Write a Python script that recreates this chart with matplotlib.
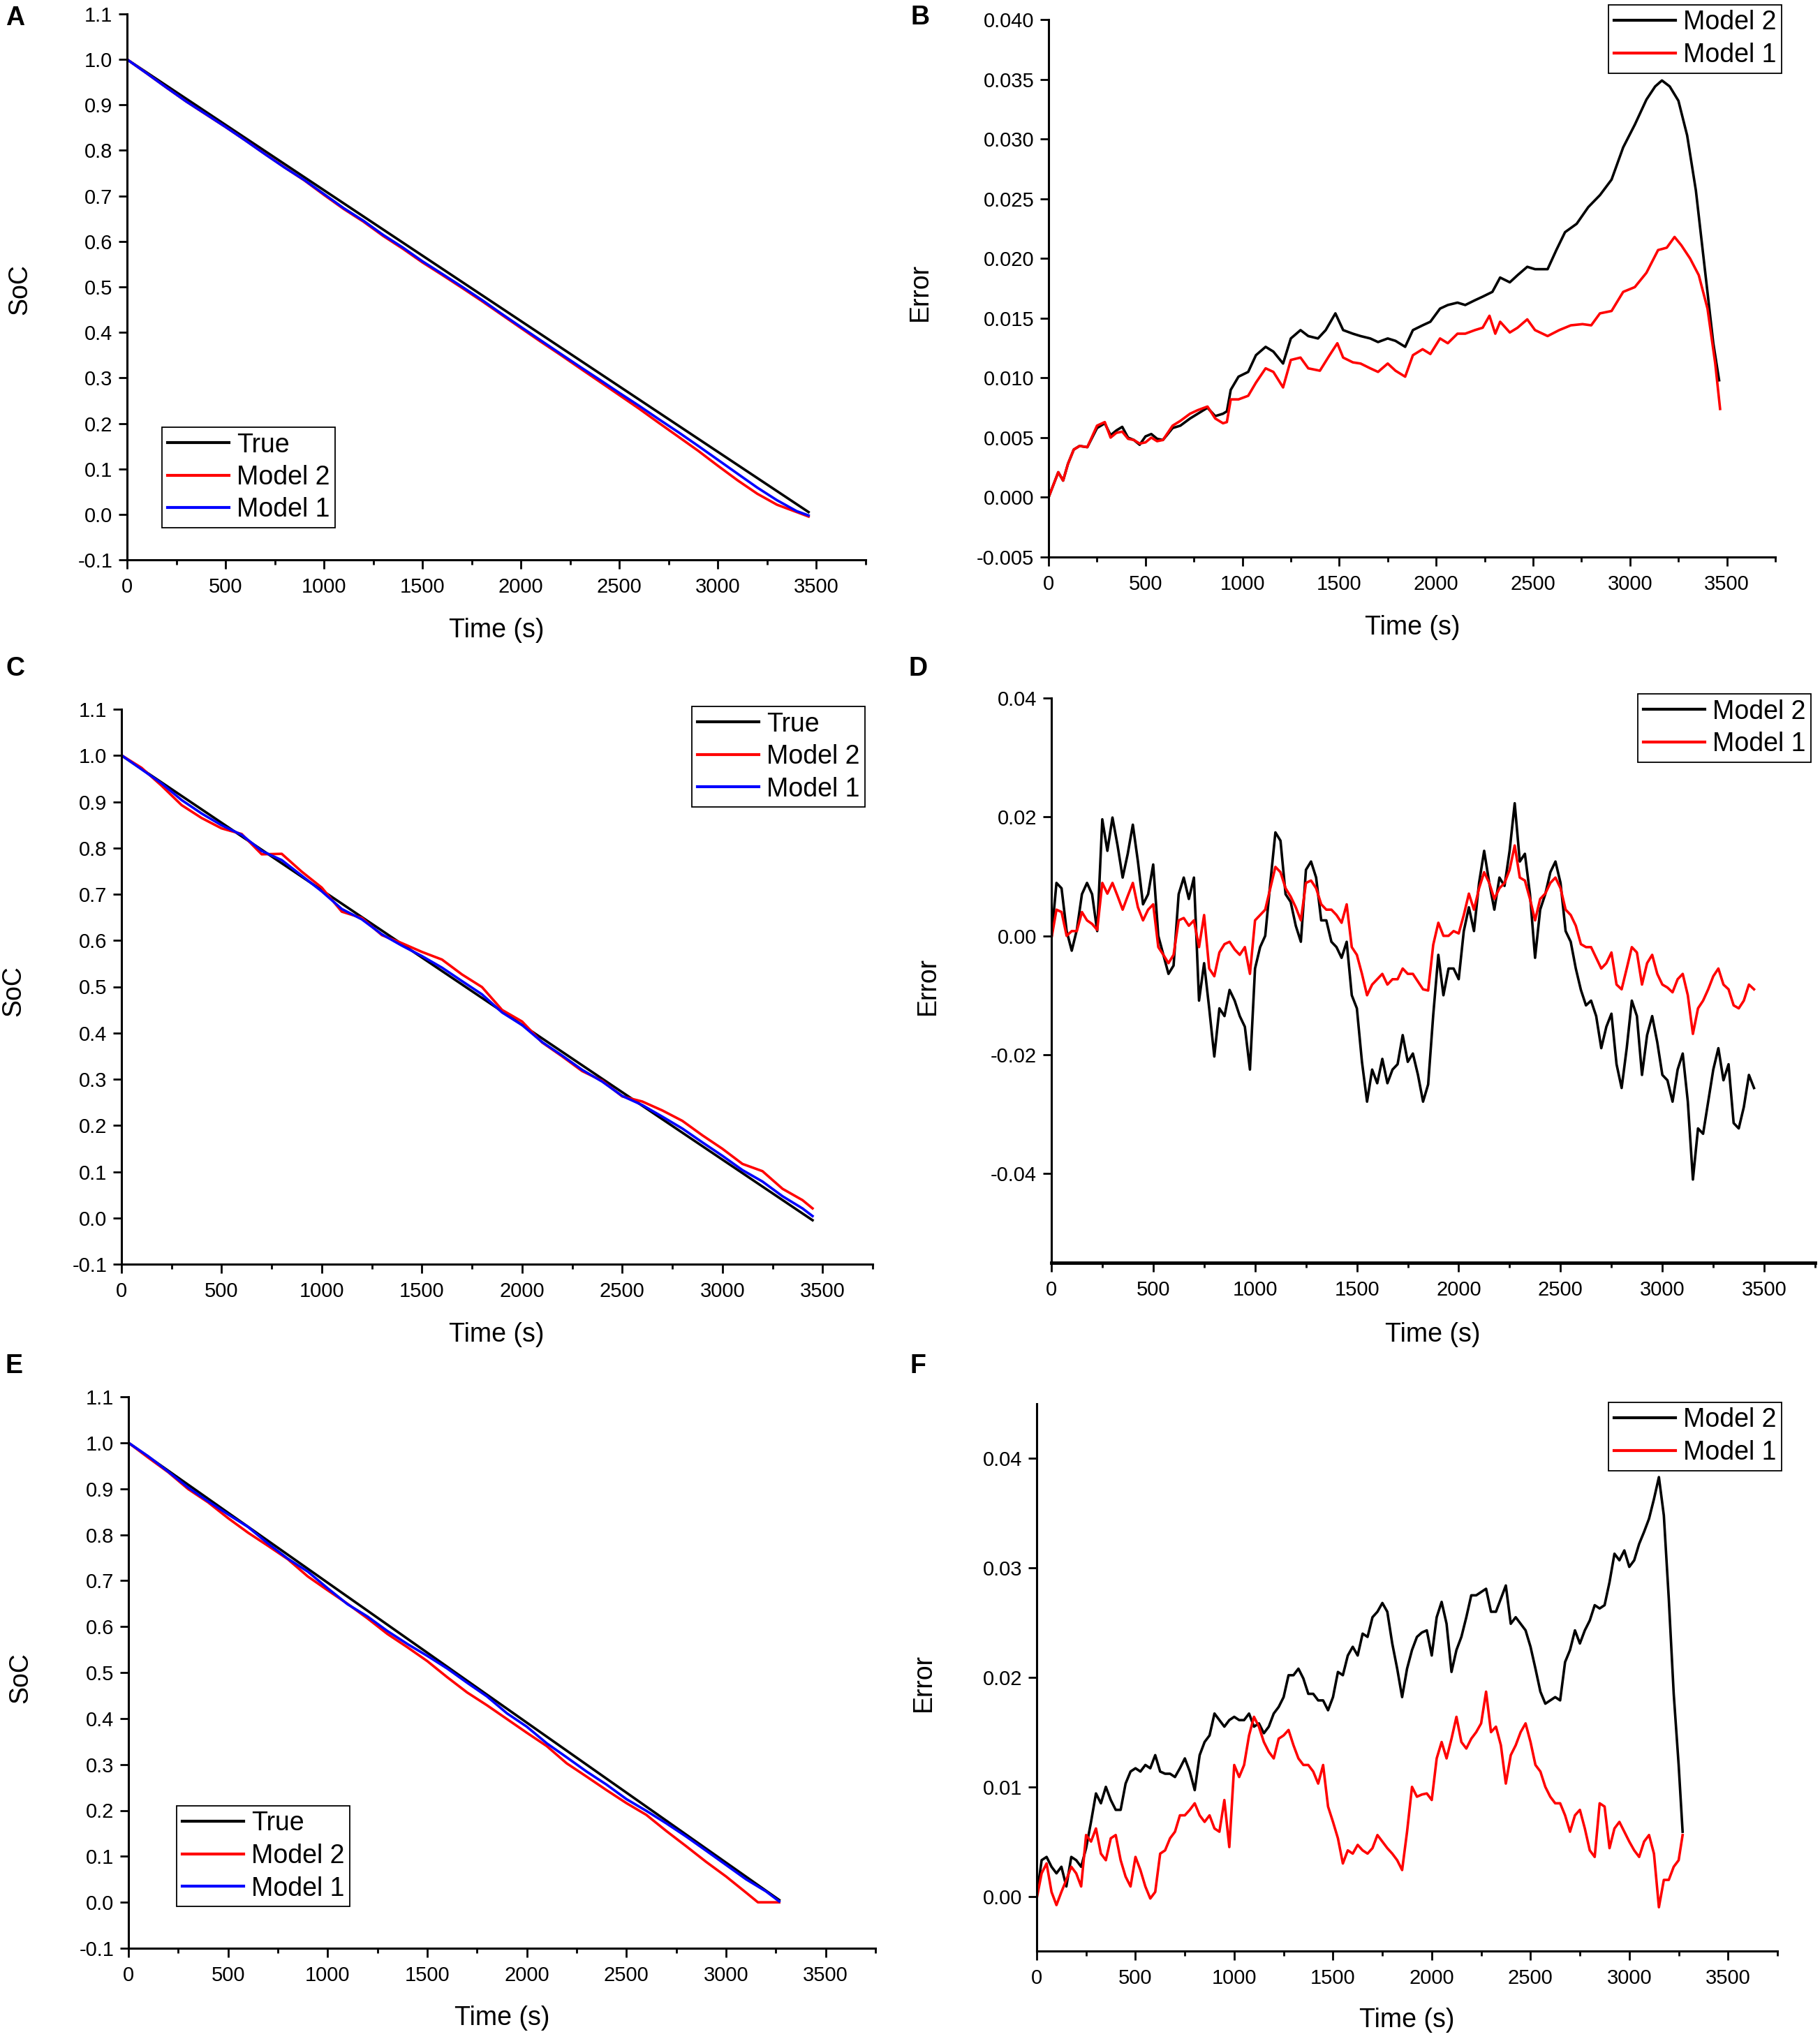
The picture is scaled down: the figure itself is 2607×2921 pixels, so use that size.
import matplotlib
matplotlib.use('Agg')
import matplotlib.pyplot as plt
from matplotlib.ticker import MultipleLocator, FixedLocator, FormatStrFormatter

plt.rcParams['font.family'] = ['Liberation Sans', 'DejaVu Sans']
plt.rcParams['axes.unicode_minus'] = False

# ---------------- data: panel A (SoC) ----------------
t_A_true = [0, 3460]
soc_A_true = [1.0, 0.005]
t_A = [0, 100, 200, 300, 400, 500, 600, 700, 800, 900, 1000, 1100, 1200, 1300, 1400,
       1500, 1600, 1700, 1800, 1900, 2000, 2100, 2200, 2300, 2400, 2500, 2600, 2700,
       2800, 2900, 3000, 3100, 3200, 3300, 3400, 3460]
soc_A_m2 = [1.0, 0.9694, 0.9382, 0.9077, 0.8795, 0.8516, 0.8224, 0.7922, 0.7627, 0.7342,
            0.7022, 0.6713, 0.6435, 0.6121, 0.584, 0.5538, 0.5263, 0.4981, 0.4693, 0.4394,
            0.4095, 0.3797, 0.3508, 0.321, 0.2915, 0.2619, 0.2322, 0.201, 0.1704, 0.1396,
            0.1067, 0.0747, 0.0452, 0.0211, 0.005, -0.0048]
soc_A_m1 = [1.0, 0.9694, 0.9382, 0.9077, 0.8798, 0.8516, 0.8222, 0.7919, 0.7624, 0.7349,
            0.7041, 0.6731, 0.6455, 0.6144, 0.5866, 0.5562, 0.5286, 0.5006, 0.4718, 0.4414,
            0.4118, 0.3825, 0.3533, 0.3243, 0.2958, 0.2668, 0.2385, 0.2091, 0.1803, 0.1504,
            0.1198, 0.0892, 0.0587, 0.031, 0.007, -0.0024]

# ---------------- data: panel B (error) ----------------
t_B_m2 = [0, 50, 75, 100, 130, 160, 200, 250, 290, 320, 350, 380, 410, 440, 470, 500, 530,
          560, 590, 640, 680, 730, 770, 820, 860, 900, 920, 940, 980, 1030, 1070, 1120, 1160,
          1210, 1250, 1300, 1340, 1390, 1430, 1480, 1520, 1570, 1610, 1660, 1700, 1750, 1790,
          1840, 1880, 1930, 1970, 2020, 2060, 2110, 2150, 2200, 2240, 2290, 2330, 2380, 2420,
          2470, 2510, 2575, 2620, 2665, 2725, 2785, 2845, 2905, 2965, 3025, 3085, 3130, 3165,
          3205, 3250, 3295, 3340, 3385, 3430, 3460]
err_B_m2 = [0, 0.0021, 0.0014, 0.0028, 0.004, 0.0043, 0.0042, 0.0058, 0.0062, 0.0052,
            0.0056, 0.0059, 0.005, 0.0048, 0.0044, 0.0051, 0.0053, 0.0049, 0.0048, 0.0058,
            0.006, 0.0066, 0.007, 0.0075, 0.0068, 0.007, 0.0072, 0.009, 0.0101, 0.0105,
            0.0119, 0.0126, 0.0122, 0.0112, 0.0133, 0.014, 0.0135, 0.0133, 0.014, 0.0154,
            0.014, 0.0137, 0.0135, 0.0133, 0.013, 0.0133, 0.0131, 0.0126, 0.014, 0.0144,
            0.0147, 0.0158, 0.0161, 0.0163, 0.0161, 0.0165, 0.0168, 0.0172, 0.0184, 0.018,
            0.0186, 0.0193, 0.0191, 0.0191, 0.0207, 0.0222, 0.0229, 0.0243, 0.0253, 0.0266,
            0.0293, 0.0312, 0.0333, 0.0344, 0.0349, 0.0344, 0.0332, 0.0303, 0.0257, 0.0193,
            0.0129, 0.0098]
t_B_m1 = [0, 50, 75, 100, 130, 160, 200, 250, 290, 320, 350, 380, 410, 440, 470, 500, 530,
          560, 590, 640, 680, 730, 770, 820, 860, 900, 920, 940, 980, 1030, 1070, 1120, 1160,
          1210, 1250, 1300, 1340, 1400, 1450, 1490, 1520, 1570, 1610, 1660, 1700, 1750, 1790,
          1840, 1880, 1930, 1970, 2020, 2060, 2110, 2150, 2200, 2240, 2275, 2305, 2330, 2380,
          2420, 2470, 2510, 2575, 2635, 2695, 2755, 2800, 2845, 2905, 2965, 3025, 3085, 3145,
          3190, 3230, 3265, 3310, 3355, 3400, 3440, 3465]
err_B_m1 = [0, 0.0021, 0.0014, 0.0028, 0.004, 0.0043, 0.0042, 0.006, 0.0063, 0.005,
            0.0054, 0.0055, 0.0049, 0.0048, 0.0045, 0.0046, 0.005, 0.0047, 0.0048, 0.006,
            0.0064, 0.007, 0.0073, 0.0076, 0.0066, 0.0062, 0.0063, 0.0082, 0.0082, 0.0085,
            0.0096, 0.0108, 0.0105, 0.0092, 0.0115, 0.0117, 0.0108, 0.0106, 0.0119, 0.0129,
            0.0117, 0.0113, 0.0112, 0.0108, 0.0105, 0.0112, 0.0106, 0.0101, 0.0119, 0.0124,
            0.012, 0.0133, 0.0129, 0.0137, 0.0137, 0.014, 0.0142, 0.0152, 0.0137, 0.0147,
            0.0138, 0.0142, 0.0149, 0.014, 0.0135, 0.014, 0.0144, 0.0145, 0.0144, 0.0154,
            0.0156, 0.0172, 0.0176, 0.0188, 0.0207, 0.0209, 0.0218, 0.0211, 0.02, 0.0186,
            0.0158, 0.0112, 0.0074]

# ---------------- data: panel C (SoC) ----------------
t_C_true = [0, 3450]
soc_C_true = [1.0, -0.005]
t_C = [0, 100, 200, 300, 400, 500, 600, 700, 800, 900, 1000, 1100, 1200, 1300, 1400,
       1500, 1600, 1700, 1800, 1900, 2000, 2100, 2200, 2300, 2400, 2500, 2600, 2700,
       2800, 2900, 3000, 3100, 3200, 3300, 3400, 3450]
soc_C_m2 = [1.0005, 0.9734, 0.9347, 0.8927, 0.8648, 0.8423, 0.8302, 0.7863, 0.7873, 0.7487,
            0.7142, 0.6622, 0.6487, 0.6115, 0.5941, 0.5752, 0.5587, 0.5264, 0.4991, 0.4497,
            0.4247, 0.3794, 0.3493, 0.3175, 0.2965, 0.2628, 0.2517, 0.2324, 0.2099, 0.1786,
            0.1495, 0.1168, 0.1011, 0.063, 0.0384, 0.0206]
soc_C_m1 = [1.0005, 0.9701, 0.9397, 0.9037, 0.8746, 0.849, 0.8284, 0.7935, 0.7738, 0.7401,
            0.7061, 0.668, 0.6456, 0.6133, 0.5887, 0.5662, 0.5412, 0.5121, 0.4834, 0.4443,
            0.417, 0.3803, 0.3511, 0.3202, 0.2947, 0.2637, 0.244, 0.219, 0.1933, 0.1634,
            0.1343, 0.1034, 0.0787, 0.0469, 0.0205, 0.004]

# ---------------- data: panel D (error) ----------------
t_D = [0, 25, 50, 75, 100, 125, 150, 175, 200, 225, 250, 275, 300, 325, 350, 375, 400, 425,
       450, 475, 500, 525, 550, 575, 600, 625, 650, 675, 700, 725, 750, 775, 800, 825, 850,
       875, 900, 925, 950, 975, 1000, 1025, 1050, 1075, 1100, 1125, 1150, 1175, 1200, 1225,
       1250, 1275, 1300, 1325, 1350, 1375, 1400, 1425, 1450, 1475, 1500, 1525, 1550, 1575,
       1600, 1625, 1650, 1675, 1700, 1725, 1750, 1775, 1800, 1825, 1850, 1875, 1900, 1925,
       1950, 1975, 2000, 2025, 2050, 2075, 2100, 2125, 2150, 2175, 2200, 2225, 2250, 2275,
       2300, 2325, 2350, 2375, 2400, 2425, 2450, 2475, 2500, 2525, 2550, 2575, 2600, 2625,
       2650, 2675, 2700, 2725, 2750, 2775, 2800, 2825, 2850, 2875, 2900, 2925, 2950, 2975,
       3000, 3025, 3050, 3075, 3100, 3125, 3150, 3175, 3200, 3225, 3250, 3275, 3300, 3325,
       3350, 3375, 3400, 3425, 3450]
err_D_m2 = [-0.0005, 0.0089, 0.008, 0.0008, -0.0025, 0.001, 0.007, 0.0089, 0.007, 0.0008,
            0.0196, 0.0143, 0.0199, 0.0152, 0.0098, 0.0138, 0.0187, 0.0125, 0.0053, 0.007,
            0.012, 0.0, -0.0032, -0.0064, -0.005, 0.007, 0.0098, 0.0062, 0.0098, -0.0109,
            -0.0046, -0.0122, -0.0203, -0.0122, -0.0135, -0.0091, -0.0109, -0.0135, -0.0153, -0.0225,
            -0.0055, -0.0019, 0.0, 0.0089, 0.0174, 0.016, 0.007, 0.0057, 0.0017, -0.001,
            0.0111, 0.0125, 0.0098, 0.0026, 0.0026, -0.001, -0.0019, -0.0037, -0.001, -0.01,
            -0.0122, -0.0212, -0.0279, -0.0225, -0.0248, -0.0207, -0.0248, -0.0225, -0.0216, -0.0167,
            -0.0212, -0.0198, -0.0234, -0.0279, -0.025, -0.0133, -0.0032, -0.01, -0.0055, -0.0055,
            -0.0073, 0.0008, 0.0048, 0.0008, 0.0089, 0.0143, 0.0089, 0.0044, 0.0098, 0.0084,
            0.0143, 0.0223, 0.0125, 0.0138, 0.007, -0.0037, 0.0044, 0.007, 0.0107, 0.0125,
            0.0089, 0.0008, -0.001, -0.0055, -0.0091, -0.0117, -0.0109, -0.0135, -0.0189, -0.0153,
            -0.0131, -0.0216, -0.0256, -0.0189, -0.0109, -0.0135, -0.0234, -0.0167, -0.0135, -0.0179,
            -0.0234, -0.0243, -0.0279, -0.0225, -0.0198, -0.0279, -0.041, -0.0324, -0.0333, -0.0279,
            -0.0225, -0.0189, -0.0243, -0.0216, -0.0315, -0.0324, -0.0288, -0.0234, -0.0256]
err_D_m1 = [-0.0005, 0.0044, 0.004, 0.0, 0.0008, 0.0008, 0.004, 0.0026, 0.002, 0.001,
            0.0089, 0.0071, 0.0089, 0.0067, 0.0044, 0.0067, 0.0089, 0.0048, 0.0026, 0.0044,
            0.0053, -0.0019, -0.0032, -0.0046, -0.0032, 0.0026, 0.003, 0.0017, 0.0026, -0.0019,
            0.0035, -0.0055, -0.0068, -0.0028, -0.0014, -0.001, -0.0023, -0.0032, -0.0019, -0.0064,
            0.0026, 0.0035, 0.0044, 0.008, 0.0116, 0.0107, 0.008, 0.0066, 0.0048, 0.0026,
            0.0089, 0.0093, 0.008, 0.0053, 0.0044, 0.0044, 0.0035, 0.0022, 0.0053, -0.0019,
            -0.0032, -0.0064, -0.01, -0.0082, -0.0073, -0.0064, -0.0082, -0.0073, -0.0073, -0.0055,
            -0.0064, -0.0064, -0.0077, -0.009, -0.0092, -0.0015, 0.0022, 0.0, 0.0, 0.0008,
            0.0004, 0.0035, 0.0071, 0.0044, 0.008, 0.0107, 0.0089, 0.0062, 0.008, 0.0089,
            0.0111, 0.0152, 0.0098, 0.0093, 0.0062, 0.0026, 0.0062, 0.0071, 0.0089, 0.0098,
            0.008, 0.0044, 0.0035, 0.0017, -0.0014, -0.0019, -0.0019, -0.0037, -0.0055, -0.0046,
            -0.0028, -0.0082, -0.009, -0.0055, -0.0019, -0.0028, -0.0082, -0.0046, -0.0032, -0.0064,
            -0.0082, -0.0087, -0.0095, -0.0073, -0.0064, -0.01, -0.0165, -0.0122, -0.0109, -0.009,
            -0.0068, -0.0055, -0.0082, -0.009, -0.0117, -0.0122, -0.0109, -0.0082, -0.009]

# ---------------- data: panel E (SoC) ----------------
t_E_true = [0, 3267]
soc_E_true = [1.0, 0.005]
t_E_m2 = [0, 100, 200, 300, 400, 500, 600, 700, 800, 900, 1000, 1100, 1200, 1300, 1400,
          1500, 1600, 1700, 1800, 1900, 2000, 2100, 2200, 2300, 2400, 2500, 2600, 2700,
          2800, 2900, 3000, 3100, 3160, 3267]
soc_E_m2 = [1.0, 0.9674, 0.9358, 0.8992, 0.8703, 0.836, 0.8044, 0.7759, 0.7466, 0.7092,
            0.679, 0.6495, 0.6178, 0.5839, 0.5551, 0.5249, 0.4899, 0.4567, 0.4287, 0.3988,
            0.3689, 0.3399, 0.3024, 0.2735, 0.2441, 0.2158, 0.1902, 0.1552, 0.122, 0.088,
            0.0562, 0.0213, 0.0, 0.0]
t_E_m1 = [0, 100, 200, 300, 400, 500, 600, 700, 800, 900, 1000, 1100, 1200, 1300, 1400,
          1500, 1600, 1700, 1800, 1900, 2000, 2100, 2200, 2300, 2400, 2500, 2600, 2700,
          2800, 2900, 3000, 3100, 3200, 3267]
soc_E_m1 = [1.0, 0.9703, 0.937, 0.9024, 0.8726, 0.8441, 0.8169, 0.7809, 0.7478, 0.7197,
            0.6834, 0.6486, 0.6219, 0.5903, 0.5622, 0.5363, 0.5088, 0.4778, 0.4479, 0.4113,
            0.3821, 0.346, 0.3155, 0.2845, 0.2561, 0.2245, 0.199, 0.1718, 0.143, 0.1123,
            0.0813, 0.0502, 0.0239, 0.002]

# ---------------- data: panel F (error) ----------------
t_F = [0, 25, 50, 75, 100, 125, 150, 175, 200, 225, 250, 275, 300, 325, 350, 375, 400, 425,
       450, 475, 500, 525, 550, 575, 600, 625, 650, 675, 700, 725, 750, 775, 800, 825, 850,
       875, 900, 925, 950, 975, 1000, 1025, 1050, 1075, 1100, 1125, 1150, 1175, 1200, 1225,
       1250, 1275, 1300, 1325, 1350, 1375, 1400, 1425, 1450, 1475, 1500, 1525, 1550, 1575,
       1600, 1625, 1650, 1675, 1700, 1725, 1750, 1775, 1800, 1825, 1850, 1875, 1900, 1925,
       1950, 1975, 2000, 2025, 2050, 2075, 2100, 2125, 2150, 2175, 2200, 2225, 2250, 2275,
       2300, 2325, 2350, 2375, 2400, 2425, 2450, 2475, 2500, 2525, 2550, 2575, 2600, 2625,
       2650, 2675, 2700, 2725, 2750, 2775, 2800, 2825, 2850, 2875, 2900, 2925, 2950, 2975,
       3000, 3025, 3050, 3075, 3100, 3125, 3150, 3175, 3200, 3225, 3250, 3270]
err_F_m2 = [0.0, 0.0033, 0.0036, 0.0027, 0.0021, 0.0027, 0.0009, 0.0036, 0.0033, 0.0027,
            0.0044, 0.0068, 0.0094, 0.0085, 0.01, 0.0088, 0.0079, 0.0079, 0.0103, 0.0114,
            0.0117, 0.0114, 0.012, 0.0117, 0.0129, 0.0114, 0.0112, 0.0112, 0.0109, 0.0117,
            0.0126, 0.0114, 0.0097, 0.0129, 0.0141, 0.0147, 0.0167, 0.0161, 0.0155, 0.0161,
            0.0164, 0.0161, 0.0161, 0.0167, 0.0155, 0.0158, 0.0149, 0.0155, 0.0167, 0.0173,
            0.0182, 0.0202, 0.0202, 0.0208, 0.0199, 0.0185, 0.0185, 0.0179, 0.0179, 0.017,
            0.0182, 0.0205, 0.0202, 0.022, 0.0228, 0.022, 0.024, 0.0237, 0.0255, 0.026,
            0.0268, 0.026, 0.0231, 0.0208, 0.0182, 0.0208, 0.0225, 0.0237, 0.0241, 0.0243,
            0.022, 0.0255, 0.0269, 0.0249, 0.0205, 0.0225, 0.0237, 0.0255, 0.0275, 0.0275,
            0.0278, 0.0281, 0.026, 0.026, 0.0272, 0.0284, 0.0249, 0.0255, 0.0249, 0.0243,
            0.0228, 0.0208, 0.0187, 0.0176, 0.0179, 0.0182, 0.0179, 0.0214, 0.0225, 0.0243,
            0.0231, 0.0243, 0.0252, 0.0266, 0.0263, 0.0266, 0.0287, 0.0313, 0.0307, 0.0316,
            0.0301, 0.0307, 0.0322, 0.0333, 0.0345, 0.0363, 0.0383, 0.0348, 0.0272, 0.0185,
            0.012, 0.0059]
err_F_m1 = [-0.0002, 0.0021, 0.003, 0.0004, -0.0008, 0.0004, 0.0015, 0.0027, 0.0021, 0.0009,
            0.0056, 0.005, 0.0062, 0.0039, 0.0033, 0.0053, 0.0056, 0.0033, 0.0018, 0.0009,
            0.0036, 0.0024, 0.0009, -0.0002, 0.0004, 0.0039, 0.0042, 0.0053, 0.0059, 0.0074,
            0.0074, 0.0079, 0.0085, 0.0074, 0.0068, 0.0074, 0.0062, 0.0059, 0.0088, 0.0045,
            0.012, 0.0109, 0.012, 0.0147, 0.0164, 0.0155, 0.0141, 0.0132, 0.0126, 0.0144,
            0.0147, 0.0152, 0.0138, 0.0126, 0.012, 0.012, 0.0114, 0.0103, 0.012, 0.0082,
            0.0068, 0.0053, 0.003, 0.0042, 0.0039, 0.0047, 0.0042, 0.0039, 0.0044, 0.0056,
            0.005, 0.0044, 0.0039, 0.0033, 0.0024, 0.0059, 0.01, 0.0091, 0.0093, 0.0094,
            0.0088, 0.0126, 0.0141, 0.0126, 0.0144, 0.0164, 0.0141, 0.0135, 0.0144, 0.015,
            0.0158, 0.0187, 0.015, 0.0155, 0.0138, 0.0103, 0.0129, 0.0138, 0.015, 0.0158,
            0.0141, 0.012, 0.0114, 0.01, 0.0091, 0.0085, 0.0085, 0.0074, 0.0059, 0.0074,
            0.0079, 0.0062, 0.0042, 0.0036, 0.0085, 0.0082, 0.0044, 0.0062, 0.0068, 0.0059,
            0.005, 0.0042, 0.0036, 0.005, 0.0056, 0.0039, -0.001, 0.0015, 0.0015, 0.0027,
            0.0033, 0.0056]

# ---------------- labels / ticks ----------------
soc_ticks = [-0.1, 0.0, 0.1, 0.2, 0.3, 0.4, 0.5, 0.6, 0.7, 0.8, 0.9, 1.0, 1.1]
time_ticks = [0, 500, 1000, 1500, 2000, 2500, 3000, 3500]
errB_ticks = [-0.005, 0.0, 0.005, 0.01, 0.015, 0.02, 0.025, 0.03, 0.035, 0.04]
errD_ticks = [-0.04, -0.02, 0.0, 0.02, 0.04]
errF_ticks = [0.0, 0.01, 0.02, 0.03, 0.04]

W, H = 2607, 2921
fig = plt.figure(figsize=(W / 100, H / 100), dpi=100)
fig.patch.set_facecolor('white')

TICK_FS = 21
LAB_FS = 27
LEG_FS = 27
LW = 2.6


def px_axes(l, t, r, b):
    return fig.add_axes([l / W, 1 - b / H, (r - l) / W, (b - t) / H])


def style(ax, yticks, yfmt, ylim, bottom_lw=2.2):
    ax.set_xlim(0, 3750)
    ax.set_ylim(*ylim)
    for s in ('top', 'right'):
        ax.spines[s].set_visible(False)
    ax.spines['left'].set_linewidth(2.2)
    ax.spines['bottom'].set_linewidth(bottom_lw)
    ax.xaxis.set_major_locator(FixedLocator(time_ticks))
    ax.xaxis.set_minor_locator(MultipleLocator(250))
    ax.yaxis.set_major_locator(FixedLocator(yticks))
    ax.yaxis.set_major_formatter(FormatStrFormatter(yfmt))
    ax.tick_params(axis='both', which='major', direction='out', length=9, width=2.0,
                   labelsize=TICK_FS)
    ax.tick_params(axis='x', which='minor', direction='out', length=5, width=2.0)
    ax.tick_params(axis='x', which='major', pad=9)
    ax.tick_params(axis='y', which='major', pad=6)
    ax.set_facecolor('white')


def legend(ax, x, y):
    leg = ax.legend(loc='upper left', bbox_to_anchor=(x / W, 1 - y / H),
                    bbox_transform=fig.transFigure, fontsize=LEG_FS, frameon=True,
                    fancybox=False, framealpha=1, edgecolor='black', borderpad=0.2,
                    labelspacing=0.28, handlelength=2.35, handletextpad=0.3,
                    borderaxespad=0)
    leg.get_frame().set_linewidth(1.3)
    for h in leg.get_lines():
        h.set_linewidth(3.0)


def ftext(x, y, s, **kw):
    fig.text(x / W, 1 - y / H, s, ha='center', va='center', **kw)


# ---- A ----
ax = px_axes(182, 20, 1240, 802)
ax.plot(t_A_true, soc_A_true, color='black', lw=LW, label='True')
ax.plot(t_A, soc_A_m2, color='#ff0000', lw=LW, label='Model 2')
ax.plot(t_A, soc_A_m1, color='#0000ff', lw=LW, label='Model 1')
style(ax, soc_ticks, '%.1f', (-0.1, 1.1))
legend(ax, 232, 612)

# ---- B ----
ax = px_axes(1502, 28, 2543, 798)
ax.plot(t_B_m2, err_B_m2, color='black', lw=LW, label='Model 2')
ax.plot(t_B_m1, err_B_m1, color='#ff0000', lw=LW, label='Model 1')
style(ax, errB_ticks, '%.3f', (-0.005, 0.040))
legend(ax, 2304, 7)

# ---- C ----
ax = px_axes(174, 1016, 1250, 1811)
ax.plot(t_C_true, soc_C_true, color='black', lw=LW, label='True')
ax.plot(t_C, soc_C_m2, color='#ff0000', lw=LW, label='Model 2')
ax.plot(t_C, soc_C_m1, color='#0000ff', lw=LW, label='Model 1')
style(ax, soc_ticks, '%.1f', (-0.1, 1.1))
legend(ax, 991, 1012)

# ---- D ----
ax = px_axes(1506, 1000, 2600, 1809)
ax.plot(t_D, err_D_m2, color='black', lw=LW, label='Model 2')
ax.plot(t_D, err_D_m1, color='#ff0000', lw=LW, label='Model 1')
style(ax, errD_ticks, '%.2f', (-0.055, 0.040), bottom_lw=3.5)
legend(ax, 2346, 994)

# ---- E ----
ax = px_axes(184, 2001, 1254, 2791)
ax.plot(t_E_true, soc_E_true, color='black', lw=LW, label='True')
ax.plot(t_E_m2, soc_E_m2, color='#ff0000', lw=LW, label='Model 2')
ax.plot(t_E_m1, soc_E_m1, color='#0000ff', lw=LW, label='Model 1')
style(ax, soc_ticks, '%.1f', (-0.1, 1.1))
legend(ax, 253, 2587)

# ---- F ----
ax = px_axes(1485, 2011, 2546, 2795)
ax.plot(t_F, err_F_m2, color='black', lw=LW, label='Model 2')
ax.plot(t_F, err_F_m1, color='#ff0000', lw=LW, label='Model 1')
style(ax, errF_ticks, '%.2f', (-0.005, 0.045))
legend(ax, 2304, 2009)

# axis labels
for (x, y) in [(28, 415), (19, 1420), (29, 2404)]:
    ftext(x, y, 'SoC', fontsize=LAB_FS, rotation=90)
for (x, y) in [(1318, 418), (1329, 1412), (1323, 2410)]:
    ftext(x, y, 'Error', fontsize=LAB_FS, rotation=90)
for (x, y) in [(711, 903), (2023, 899), (711, 1912), (2052, 1912), (719, 2891), (2015, 2894)]:
    ftext(x, y, 'Time (s)', fontsize=LAB_FS)

# panel letters
for (x, y, s) in [(22, 26, 'A'), (1318, 25, 'B'), (22, 958, 'C'), (1315, 958, 'D'),
                  (20, 1957, 'E'), (1315, 1957, 'F')]:
    ftext(x, y, s, fontsize=27, fontweight='bold')

fig.savefig('out.png', dpi=100, facecolor='white')
